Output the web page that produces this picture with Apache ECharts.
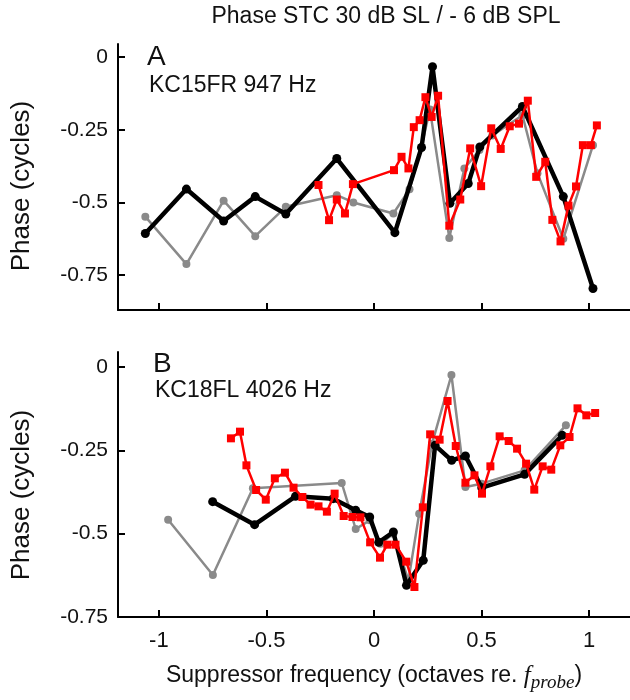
<!DOCTYPE html>
<html><head><meta charset="utf-8">
<script src="https://cdn.jsdelivr.net/npm/echarts@6/dist/echarts.min.js"></script>
<style>html,body{margin:0;padding:0;background:#fff}#c{width:630px;height:700px}</style>
</head><body><div id="c"></div>
<script>
// ---- tick values ----
const xTicks = [-1, -0.5, 0, 0.5, 1];
const yTicks = [0, -0.25, -0.5, -0.75];

// ---- Panel A: KC15FR 947 Hz ----
const aGrey = [[-1.063,-0.549],[-0.872,-0.712],[-0.699,-0.494],[-0.552,-0.616],[-0.41,-0.515],[-0.173,-0.475],[-0.096,-0.5],[0.09,-0.538],[0.165,-0.455],[0.22,-0.31],[0.26,-0.18],[0.35,-0.622],[0.42,-0.383],[0.49,-0.32],[0.55,-0.27],[0.69,-0.2],[0.76,-0.40],[0.88,-0.625],[1.018,-0.303]];
const aBlack = [[-1.063,-0.607],[-0.872,-0.454],[-0.699,-0.564],[-0.552,-0.48],[-0.41,-0.54],[-0.173,-0.349],[0.097,-0.604],[0.221,-0.311],[0.272,-0.033],[0.353,-0.503],[0.438,-0.435],[0.492,-0.309],[0.69,-0.17],[0.88,-0.48],[1.018,-0.796]];
const aRed = [[-0.258,-0.44],[-0.209,-0.561],[-0.173,-0.49],[-0.135,-0.538],[-0.098,-0.437],[0.093,-0.389],[0.128,-0.343],[0.16,-0.383],[0.185,-0.241],[0.212,-0.217],[0.239,-0.138],[0.268,-0.206],[0.298,-0.133],[0.35,-0.58],[0.401,-0.49],[0.447,-0.314],[0.498,-0.444],[0.545,-0.245],[0.589,-0.316],[0.631,-0.238],[0.674,-0.229],[0.715,-0.15],[0.754,-0.412],[0.796,-0.36],[0.829,-0.56],[0.867,-0.634],[0.904,-0.511],[0.939,-0.445],[0.971,-0.303],[1.008,-0.303],[1.036,-0.235]];

// ---- Panel B: KC18FL 4026 Hz ----
const bGrey = [[-0.957,-0.458],[-0.749,-0.624],[-0.563,-0.364],[-0.15,-0.348],[-0.085,-0.486],[-0.02,-0.46],[0.03,-0.53],[0.09,-0.5],[0.16,-0.64],[0.21,-0.44],[0.27,-0.23],[0.36,-0.024],[0.425,-0.36],[0.50,-0.35],[0.70,-0.31],[0.892,-0.175]];
const bBlack = [[-0.75,-0.404],[-0.555,-0.473],[-0.365,-0.388],[-0.19,-0.395],[-0.085,-0.43],[-0.02,-0.45],[0.022,-0.526],[0.09,-0.495],[0.151,-0.655],[0.229,-0.58],[0.284,-0.235],[0.361,-0.28],[0.425,-0.267],[0.501,-0.362],[0.70,-0.322],[0.875,-0.205]];
const bRed = [[-0.665,-0.214],[-0.623,-0.194],[-0.593,-0.295],[-0.548,-0.369],[-0.503,-0.398],[-0.461,-0.334],[-0.414,-0.317],[-0.374,-0.362],[-0.333,-0.39],[-0.295,-0.413],[-0.258,-0.418],[-0.219,-0.434],[-0.183,-0.38],[-0.141,-0.447],[-0.10,-0.45],[-0.063,-0.451],[-0.018,-0.526],[0.028,-0.572],[0.062,-0.533],[0.10,-0.533],[0.15,-0.584],[0.188,-0.66],[0.227,-0.421],[0.261,-0.202],[0.305,-0.218],[0.342,-0.102],[0.38,-0.237],[0.425,-0.347],[0.467,-0.325],[0.502,-0.38],[0.541,-0.298],[0.584,-0.208],[0.626,-0.222],[0.665,-0.245],[0.707,-0.29],[0.745,-0.368],[0.784,-0.298],[0.824,-0.308],[0.866,-0.235],[0.909,-0.21],[0.946,-0.124],[0.987,-0.145],[1.028,-0.138]];

const FONT = '"Liberation Sans", Arial, Helvetica, sans-serif';
const chart = echarts.init(document.getElementById('c'), null, {renderer: 'canvas'});

function xAxis(i, showLabels) {
  return {
    type: 'value', gridIndex: i, min: -1.19, max: 1.19,
    axisLine: {show: true, onZero: false, lineStyle: {color: '#000', width: 2}},
    axisTick: {show: true, inside: true, length: 7, customValues: xTicks, lineStyle: {color: '#000', width: 2}},
    axisLabel: {show: showLabels, customValues: xTicks, fontSize: 22, fontFamily: FONT, color: '#111', margin: 13},
    splitLine: {show: false}
  };
}
function yAxis(i, min) {
  return {
    type: 'value', gridIndex: i, min: min, max: 0.045,
    axisLine: {show: true, onZero: false, lineStyle: {color: '#000', width: 2}},
    axisTick: {show: true, inside: true, length: 7, customValues: yTicks, lineStyle: {color: '#000', width: 2}},
    axisLabel: {customValues: yTicks, fontSize: 21, fontFamily: FONT, color: '#111', margin: 10},
    splitLine: {show: false}
  };
}
function line(data, idx, kind) {
  const st = {
    grey:  {color: '#8a8a8a', w: 2.5, sym: 'circle', size: 8, z: 2},
    black: {color: '#000000', w: 4.5, sym: 'circle', size: 9, z: 3},
    red:   {color: '#ff0000', w: 2.5, sym: 'rect',   size: 8, z: 4}
  }[kind];
  return {
    type: 'line', xAxisIndex: idx, yAxisIndex: idx, data: data, z: st.z,
    symbol: st.sym, symbolSize: st.size, showSymbol: true,
    lineStyle: {color: st.color, width: st.w},
    itemStyle: {color: st.color, borderWidth: 0},
    animation: false, silent: true
  };
}
function txt(x, y, text, size) {
  return {
    type: 'text', x: x, y: y,
    style: {text: text, font: size + 'px ' + FONT, fill: '#111', align: 'left', verticalAlign: 'middle'}
  };
}

chart.setOption({
  animation: false,
  backgroundColor: '#fff',
  grid: [
    {left: 118, right: 0, top: 44, height: 266},
    {left: 118, right: 0, top: 352, height: 265}
  ],
  xAxis: [xAxis(0, false), xAxis(1, true)],
  yAxis: [yAxis(0, -0.87), yAxis(1, -0.75)],
  series: [
    line(aGrey, 0, 'grey'), line(aBlack, 0, 'black'), line(aRed, 0, 'red'),
    line(bGrey, 1, 'grey'), line(bBlack, 1, 'black'), line(bRed, 1, 'red')
  ],
  graphic: [
    {type: 'text', x: 386, y: 17, style: {text: 'Phase STC 30 dB SL / - 6 dB SPL', font: '23px ' + FONT, fill: '#111', align: 'center', verticalAlign: 'middle'}},
    txt(147, 57, 'A', 28),
    txt(149, 86, 'KC15FR 947 Hz', 23),
    txt(153, 364, 'B', 28),
    txt(155, 391, 'KC18FL 4026 Hz', 23),
    {type: 'text', x: 22, y: 186, rotation: Math.PI / 2, style: {text: 'Phase (cycles)', font: '26px ' + FONT, fill: '#111', align: 'center', verticalAlign: 'middle'}},
    {type: 'text', x: 22, y: 495, rotation: Math.PI / 2, style: {text: 'Phase (cycles)', font: '26px ' + FONT, fill: '#111', align: 'center', verticalAlign: 'middle'}},
    {type: 'text', x: 374, y: 676, style: {
      text: 'Suppressor frequency (octaves re. {f|f}{p|probe})',
      font: '23px ' + FONT, fill: '#111', align: 'center', verticalAlign: 'middle',
      rich: {
        f: {font: 'italic 25px "Liberation Serif", "DejaVu Serif", serif', fill: '#111', verticalAlign: 'middle'},
        p: {font: 'italic 19px "Liberation Serif", "DejaVu Serif", serif', fill: '#111', verticalAlign: 'bottom', padding: [13, 0, 0, 0]}
      }
    }}
  ]
});
</script></body></html>
